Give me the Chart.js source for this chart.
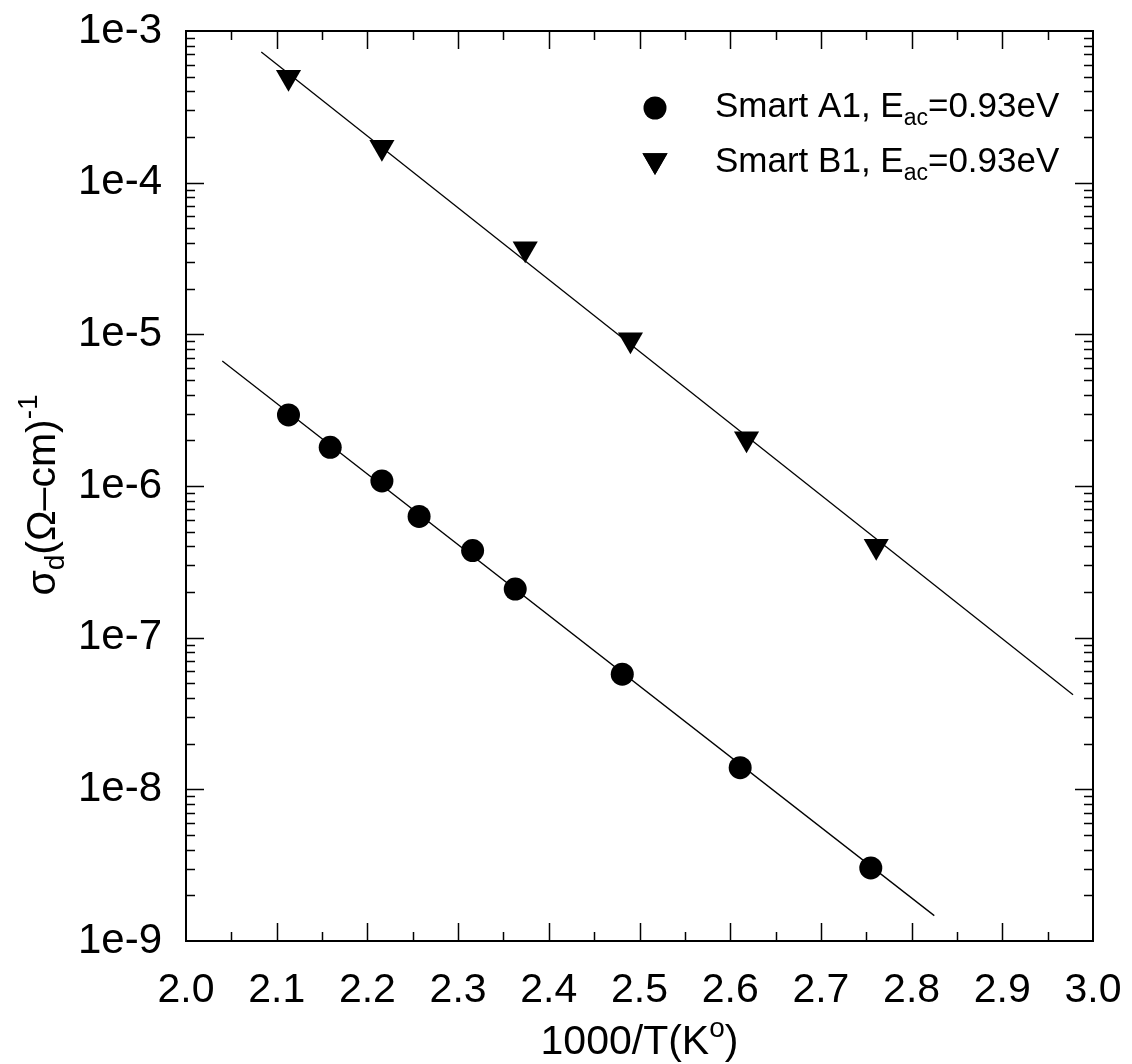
<!DOCTYPE html>
<html>
<head>
<meta charset="utf-8">
<script src="https://cdn.jsdelivr.net/npm/chart.js@4.4.1/dist/chart.umd.min.js"></script>
<style>
  html, body { margin: 0; padding: 0; background: #fff; }
</style>
</head>
<body>
<canvas id="grafico" width="1132" height="1064"></canvas>
<script>
// Smart A1 (circles)
const xA = [2.113, 2.159, 2.216, 2.257, 2.316, 2.363, 2.481, 2.611, 2.755];
const yA = [2.94e-6, 1.80e-6, 1.08e-6, 6.3e-7, 3.75e-7, 2.09e-7, 5.74e-8, 1.39e-8, 3.03e-9];
// Smart B1 (triangles)
const xB = [2.113, 2.216, 2.374, 2.490, 2.618, 2.761];
const yB = [4.96e-4, 1.71e-4, 3.66e-5, 9.2e-6, 2.05e-6, 4.0e-7];
// fitted lines (end points)
const fitAx = [2.040, 2.825];
const fitAy = [6.68e-6, 1.47e-9];
const fitBx = [2.083, 2.978];
const fitBy = [7.28e-4, 4.2e-8];

const xTickVals = [2.0, 2.1, 2.2, 2.3, 2.4, 2.5, 2.6, 2.7, 2.8, 2.9, 3.0];
const xTickLabels = ['2.0', '2.1', '2.2', '2.3', '2.4', '2.5', '2.6', '2.7', '2.8', '2.9', '3.0'];
const yTickVals = [1e-9, 1e-8, 1e-7, 1e-6, 1e-5, 1e-4, 1e-3];
const yTickLabels = ['1e-9', '1e-8', '1e-7', '1e-6', '1e-5', '1e-4', '1e-3'];

const FONT = '"Liberation Sans", Arial, Helvetica, sans-serif';

function pts(xs, ys) {
  return xs.map((x, i) => ({ x: x, y: ys[i] }));
}

// draws text made of pieces (subscripts / superscripts)
function drawRich(ctx, parts, x, y, align) {
  let total = 0;
  parts.forEach(p => {
    ctx.font = p.size + 'px ' + FONT;
    p.w = ctx.measureText(p.t).width;
    total += p.w;
  });
  let cx = align === 'center' ? x - total / 2 : x;
  parts.forEach(p => {
    ctx.font = p.size + 'px ' + FONT;
    ctx.fillText(p.t, cx, y + (p.dy || 0));
    cx += p.w;
  });
}

const frameTicks = {
  id: 'frameTicks',
  afterDraw(chart) {
    const { ctx, chartArea: a, scales: { x, y } } = chart;
    ctx.save();
    ctx.strokeStyle = '#000';
    ctx.lineWidth = 1.5;
    ctx.beginPath();
    // x ticks, top and bottom
    for (let i = 1; i < 20; i++) {
      const px = Math.round(x.getPixelForValue(2 + i * 0.05)) + 0.5;
      const len = i % 2 === 0 ? 18 : 9;
      ctx.moveTo(px, a.bottom); ctx.lineTo(px, a.bottom - len);
      ctx.moveTo(px, a.top); ctx.lineTo(px, a.top + len);
    }
    // y ticks, left and right
    for (let d = -9; d < -3; d++) {
      for (let m = 1; m < 10; m++) {
        if (d === -9 && m === 1) continue;
        const py = Math.round(y.getPixelForValue(m * Math.pow(10, d))) + 0.5;
        const len = m === 1 ? 18 : 9;
        ctx.moveTo(a.left, py); ctx.lineTo(a.left + len, py);
        ctx.moveTo(a.right, py); ctx.lineTo(a.right - len, py);
      }
    }
    ctx.stroke();
    ctx.lineWidth = 2;
    ctx.strokeRect(a.left, a.top, a.width, a.height);

    // axis titles
    ctx.fillStyle = '#000';
    ctx.textBaseline = 'alphabetic';
    ctx.textAlign = 'left';
    drawRich(ctx, [
      { t: '1000/T(K', size: 41 },
      { t: 'o', size: 28, dy: -17 },
      { t: ')', size: 41 }
    ], (a.left + a.right) / 2, 1054, 'center');

    ctx.save();
    ctx.translate(55, 495);
    ctx.rotate(-Math.PI / 2);
    drawRich(ctx, [
      { t: '\u03C3', size: 41 },
      { t: 'd', size: 28, dy: 9 },
      { t: '(\u03A9\u2013cm)', size: 41 },
      { t: '-1', size: 28, dy: -18 }
    ], 0, 0, 'center');
    ctx.restore();

    // legend
    ctx.beginPath();
    ctx.arc(655, 108, 11.5, 0, Math.PI * 2);
    ctx.fill();
    Chart.helpers.drawPoint(ctx, { pointStyle: 'triangle', rotation: 180, radius: 14.5, borderWidth: 0 }, 655, 160.5);
    ctx.fill();
    const legendRows = [['Smart A1, E', 117], ['Smart B1, E', 172]];
    legendRows.forEach(r => {
      drawRich(ctx, [
        { t: r[0], size: 35 },
        { t: 'ac', size: 23, dy: 8 },
        { t: '=0.93eV', size: 35 }
      ], 715, r[1], 'left');
    });
    ctx.restore();
  }
};

const ctx = document.getElementById('grafico').getContext('2d');
const myChart = new Chart(ctx, {
  type: 'scatter',
  data: {
    datasets: [
      {
        label: 'fit A',
        data: pts(fitAx, fitAy),
        showLine: true,
        borderColor: '#000',
        borderWidth: 1.3,
        pointRadius: 0,
        order: 3
      },
      {
        label: 'fit B',
        data: pts(fitBx, fitBy),
        showLine: true,
        borderColor: '#000',
        borderWidth: 1.3,
        pointRadius: 0,
        order: 3
      },
      {
        label: 'Smart A1',
        data: pts(xA, yA),
        pointStyle: 'circle',
        pointRadius: 11.5,
        backgroundColor: '#000',
        borderWidth: 0,
        order: 1
      },
      {
        label: 'Smart B1',
        data: pts(xB, yB),
        pointStyle: 'triangle',
        rotation: 180,
        pointRadius: 14.5,
        backgroundColor: '#000',
        borderWidth: 0,
        order: 1
      }
    ]
  },
  options: {
    responsive: false,
    animation: false,
    events: [],
    layout: { padding: { top: 31, right: 39, left: 0, bottom: 0 } },
    plugins: { legend: { display: false }, tooltip: { enabled: false } },
    scales: {
      x: {
        type: 'linear',
        min: 2.0,
        max: 3.0,
        afterBuildTicks: s => { s.ticks = xTickVals.map(v => ({ value: v })); },
        afterFit: s => { s.height = 123; s.paddingLeft = 0; s.paddingRight = 0; },
        ticks: {
          color: '#000',
          font: { family: FONT, size: 41 },
          padding: 25,
          maxRotation: 0,
          autoSkip: false,
          callback: (v, i) => xTickLabels[i]
        },
        grid: { display: false, drawTicks: false },
        border: { display: false }
      },
      y: {
        type: 'logarithmic',
        min: 1e-9,
        max: 1e-3,
        afterBuildTicks: s => { s.ticks = yTickVals.map(v => ({ value: v })); },
        afterFit: s => { s.width = 186; s.paddingTop = 0; s.paddingBottom = 0; },
        ticks: {
          color: '#000',
          font: { family: FONT, size: 42 },
          padding: 24,
          autoSkip: false,
          callback: (v, i) => yTickLabels[i]
        },
        grid: { display: false, drawTicks: false },
        border: { display: false }
      }
    }
  },
  plugins: [frameTicks]
});
</script>
</body>
</html>
